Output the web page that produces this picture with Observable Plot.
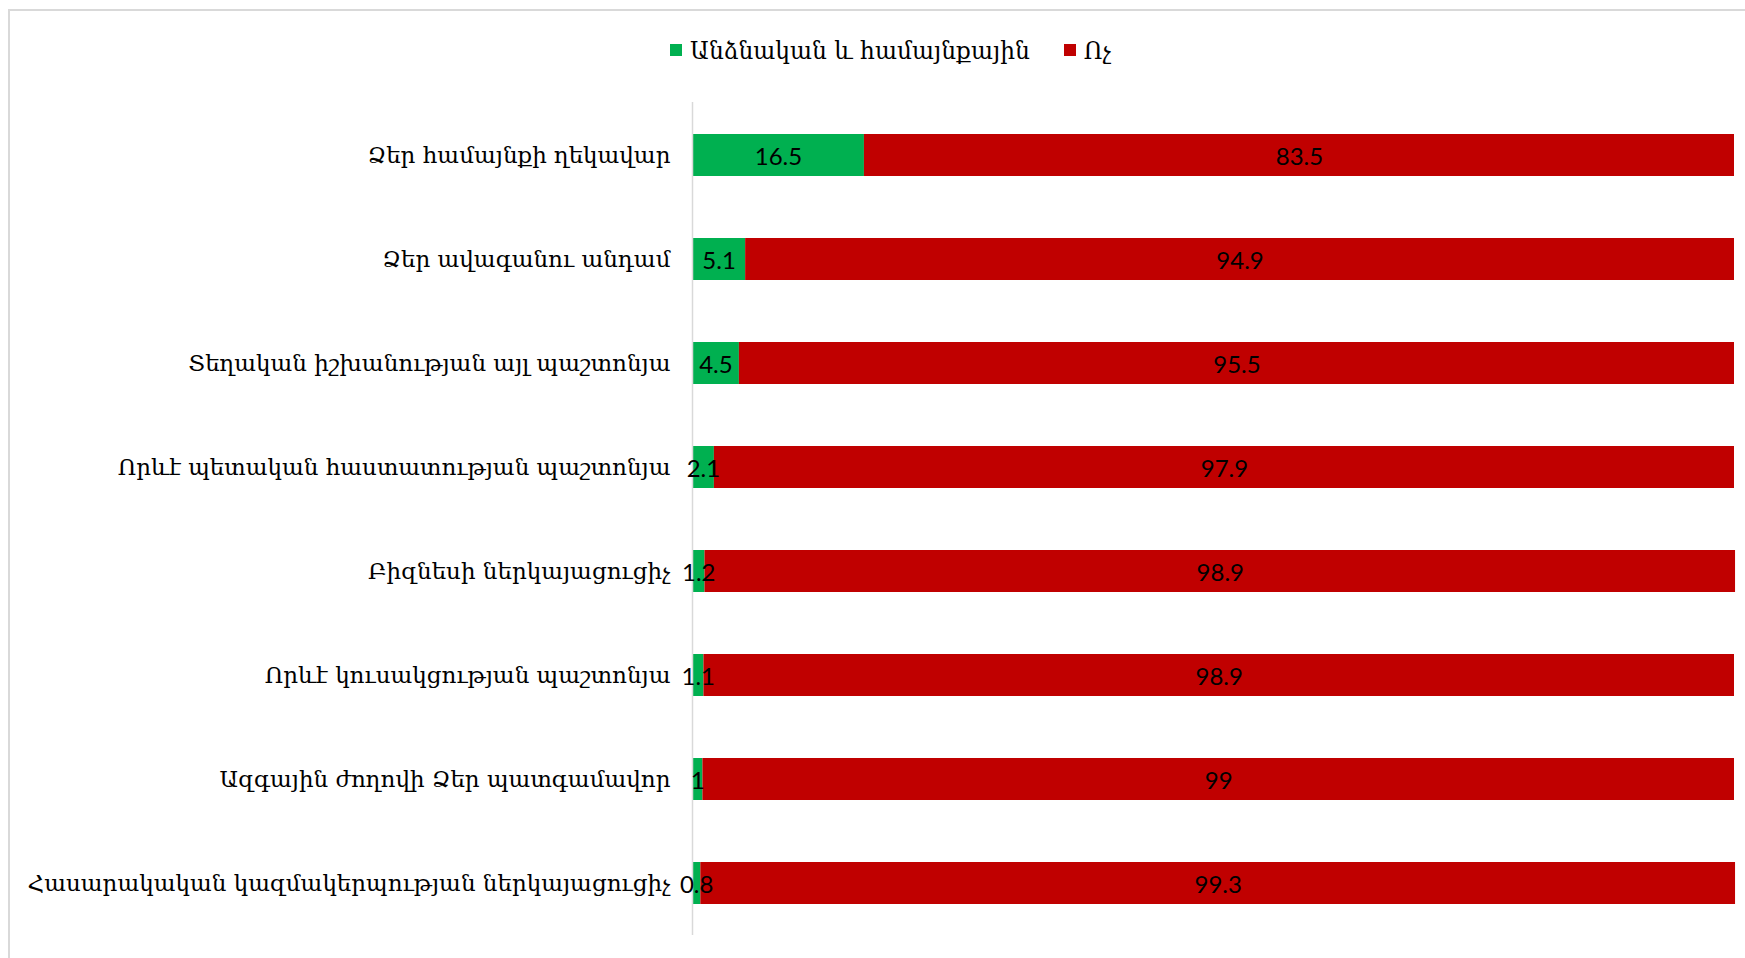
<!DOCTYPE html>
<html>
<head>
<meta charset="utf-8">
<script src="https://cdn.jsdelivr.net/npm/d3@7"></script>
<script src="https://cdn.jsdelivr.net/npm/@observablehq/plot@0.6"></script>
<style>
  html, body { margin: 0; padding: 0; background: #fff; }
  #wrap { position: relative; width: 1745px; height: 958px; overflow: hidden; }
  #frame { position: absolute; left: 8px; top: 9px; width: 1800px; height: 1000px; border: 2px solid #d9d9d9; box-sizing: border-box; }
  #legend { position: absolute; left: 0; top: 0; width: 1745px; height: 92px; display: flex; justify-content: center; align-items: center; gap: 0; font-family: "DejaVu Serif", serif; font-size: 23.3px; color: #000; padding-left: 70px; box-sizing: border-box; padding-top: 8px; }
  .item { display: flex; align-items: center; margin-right: 34px; }
  .sw { width: 12px; height: 12px; margin-right: 8px; }
  #chart { position: absolute; left: 0; top: 92px; }
</style>
</head>
<body>
<div id="wrap">
  <div id="frame"></div>
  <div id="legend"></div>
  <div id="chart"></div>
</div>
<script>
const categories = [
  "Ձեր համայնքի ղեկավար",
  "Ձեր ավագանու անդամ",
  "Տեղական իշխանության այլ պաշտոնյա",
  "Որևէ պետական հաստատության պաշտոնյա",
  "Բիզնեսի ներկայացուցիչ",
  "Որևէ կուսակցության պաշտոնյա",
  "Ազգային ժողովի Ձեր պատգամավոր",
  "Հասարակական կազմակերպության ներկայացուցիչ"
];
const seriesNames = ["Անձնական և համայնքային", "Ոչ"];
const seriesColors = ["#00B050", "#C00000"];
const personal = [16.5, 5.1, 4.5, 2.1, 1.2, 1.1, 1, 0.8];
const no = [83.5, 94.9, 95.5, 97.9, 98.9, 98.9, 99, 99.3];

const rows = [];
categories.forEach((c, i) => rows.push({cat: c, series: seriesNames[0], value: personal[i]}));
categories.forEach((c, i) => rows.push({cat: c, series: seriesNames[1], value: no[i]}));

const legend = document.getElementById("legend");
seriesNames.forEach((s, i) => {
  const it = document.createElement("div");
  it.className = "item";
  it.innerHTML = `<span class="sw" style="background:${seriesColors[i]}"></span><span>${s}</span>`;
  legend.appendChild(it);
});

const chart = Plot.plot({
  width: 1745,
  height: 866,
  marginLeft: 692,
  marginRight: 11,
  marginTop: 10,
  marginBottom: 23,
  style: {background: "transparent", overflow: "visible"},
  x: {domain: [0, 100], axis: null},
  y: {domain: categories, paddingInner: 0.6, paddingOuter: 0.3, label: null},
  color: {domain: seriesNames, range: seriesColors},
  marks: [
    Plot.barX(rows, Plot.stackX({x: "value", y: "cat", fill: "series", z: "series"})),
    Plot.ruleX([0], {stroke: "#d9d9d9", strokeWidth: 1.5}),
    Plot.text(rows, Plot.stackX({x: "value", y: "cat", z: "series", text: d => String(d.value), fill: "#000", fontSize: 24, dy: 2, fontFamily: "Lato, 'Open Sans', sans-serif"})),
    Plot.axisY({tickSize: 0, tickPadding: 22, fontSize: 23, fontFamily: "'DejaVu Serif', serif", color: "#000", label: null})
  ]
});
document.getElementById("chart").appendChild(chart);
</script>
</body>
</html>
